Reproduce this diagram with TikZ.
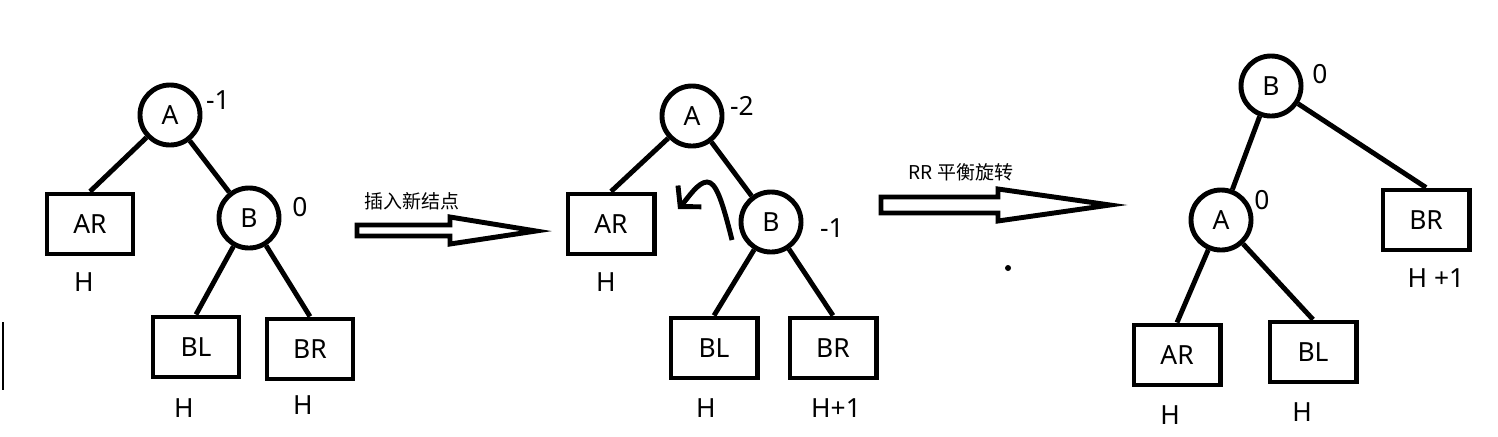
\documentclass[tikz,border=0pt]{standalone}
\usepackage{fontspec}
\setmainfont{Noto Sans}
\newfontfamily\cjk{Noto Sans CJK SC}
\usetikzlibrary{positioning,arrows.meta}

\begin{document}
\begin{tikzpicture}[x=0.01cm, y=-0.01cm, line width=1.4pt,
    knot/.style={draw, circle, minimum size=0.6cm, inner sep=0pt, font=\fontsize{7.5}{9}\selectfont},
    box/.style={draw, rectangle, minimum width=0.86cm, minimum height=0.6cm, inner sep=0pt, font=\fontsize{7.5}{9}\selectfont},
    lbl/.style={inner sep=0pt, font=\fontsize{7.5}{9}\selectfont},
    note/.style={inner sep=0pt, font=\cjk\fontsize{5.4}{6.5}\selectfont},
    fatarrow/.style={draw, line width=1.4pt, line join=miter}]
    \useasboundingbox (0,0) rectangle (1498,436);

    % 左边的竖线
    \draw[line width=0.6pt] (3,322) -- (3,390);

    % === 插入前 ===
    \node[knot] (a1) at (170,115) {A};
    \node[knot] (b1) at (249,218) {B};
    \node[box] (ar1) at (90,224) {AR};
    \node[box] (bl1) at (196,347) {BL};
    \node[box] (br1) at (310,349) {BR};
    \draw (a1) -- (ar1.north);
    \draw (a1) -- (b1);
    \draw (b1) -- (bl1.north);
    \draw (b1) -- (br1.north);
    \node[lbl] (fa1) at (218,100) {-1};
    \node[lbl] (fb1) at (300,207) {0};
    \node[lbl] (har1) at (84,282) {H};
    \node[lbl] (hbl1) at (184,408) {H};
    \node[lbl] (hbr1) at (303,405) {H};

    % 插入新结点的箭头
    \draw[fatarrow] (357,225) -- (450,225) -- (450,217) -- (536,231)
        -- (450,244) -- (450,236) -- (357,236) -- cycle;
    \node[note] (ins) at (412,201) {插入新结点};

    % === 插入后 ===
    \node[knot] (a2) at (692,116) {A};
    \node[knot] (b2) at (771,222) {B};
    \node[box] (ar2) at (611,224) {AR};
    \node[box] (bl2) at (714,348) {BL};
    \node[box] (br2) at (833,348) {BR};
    \draw (a2) -- (ar2.north);
    \draw (a2) -- (b2);
    \draw (b2) -- (bl2.north);
    \draw (b2) -- (br2.north);
    \node[lbl] (fa2) at (742,106) {-2};
    \node[lbl] (fb2) at (832,228) {-1};
    \node[lbl] (har2) at (606,282) {H};
    \node[lbl] (hbl2) at (706,408) {H};
    \node[lbl] (hbr2) at (836,408) {H+1};

    % 弯箭头
    \coordinate (c1) at (732,240);
    \coordinate (c2) at (678,209);
    \draw[-{Straight Barb[length=4pt,width=9pt]}] (c1) .. controls (722,200) and (716,182) .. (707,182)
        .. controls (698,182) and (688,198) .. (c2);

    % RR 旋转的箭头
    \draw[fatarrow] (881,197) -- (998,197) -- (998,189) -- (1110,205)
        -- (998,221) -- (998,213) -- (881,213) -- cycle;
    \node[note] (rot) at (961,172) {RR 平衡旋转};
    \fill (1008,268) circle (3);

    % === 旋转后 ===
    \node[knot] (b3) at (1271,86) {B};
    \node[knot] (a3) at (1221,220) {A};
    \node[box] (br3) at (1426,220) {BR};
    \node[box] (ar3) at (1177,355) {AR};
    \node[box] (bl3) at (1313,352) {BL};
    \draw (b3) -- (a3);
    \draw (b3) -- (br3.north);
    \draw (a3) -- (ar3.north);
    \draw (a3) -- (bl3.north);
    \node[lbl] (fb3) at (1320,74) {0};
    \node[lbl] (fa3) at (1262,200) {0};
    \node[lbl] (hbr3) at (1436,278) {H +1};
    \node[lbl] (har3) at (1170,415) {H};
    \node[lbl] (hbl3) at (1302,412) {H};
\end{tikzpicture}
\end{document}
